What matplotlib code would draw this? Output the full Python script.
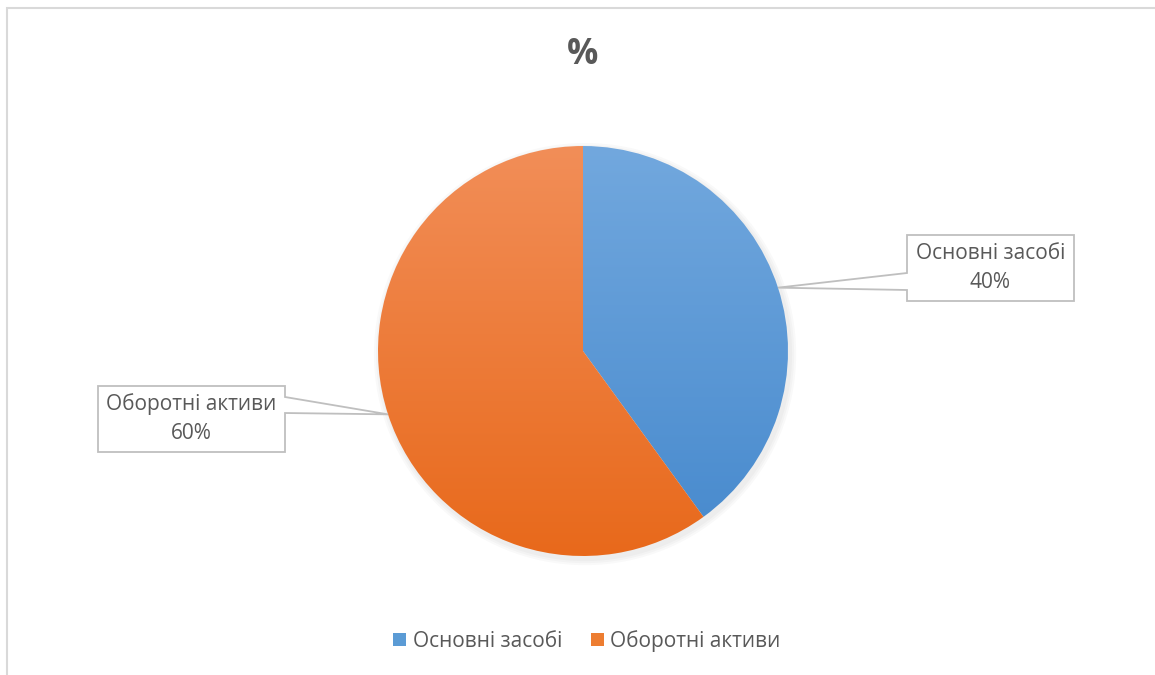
import matplotlib
matplotlib.use("Agg")
import matplotlib.pyplot as plt
import numpy as np
from matplotlib.patches import Wedge, Polygon, Circle, Rectangle
from matplotlib.colors import LinearSegmentedColormap

labels = ["Основні засобі", "Оборотні активи"]
values = [40, 60]
top_colors = ["#72a8de", "#f28e58"]
bottom_colors = ["#4689cd", "#e8691b"]
legend_colors = ["#5b9bd5", "#ed7d31"]
title = "%"

plt.rcParams['font.family'] = ['Open Sans', 'DejaVu Sans']
text_color = "#595959"

W, H = 1155, 675
cx, cy, R = 583, 351, 205   # pie center / radius in pixels

fig = plt.figure(figsize=(W / 100, H / 100), dpi=100)
ax = fig.add_axes([0, 0, 1, 1])
# data units: 1 = pie radius
ax.axis("off")

def px(x, y):
    # pixel position -> data coords
    return (x - cx) / R, (cy - y) / R

# chart border: only top and left edges are visible
bx0, by0 = px(6.5, 7.5)
bx1, by1 = px(W + 20, H + 20)
ax.plot([bx1, bx0, bx0], [by0, by0, by1], color="#d9d9d9", lw=1.5, zorder=0,
        solid_joinstyle="miter")

# faint shadow
for i in range(3):
    ax.add_patch(Circle((0.01, -0.015), 1.0 + 0.01 * (i + 1), color="black",
                        alpha=0.025, lw=0, zorder=1))

# slices with vertical gradient, clockwise from top
total = sum(values)
start = 90.0
mids = []
for i, v in enumerate(values):
    sweep = 360.0 * v / total
    end = start - sweep
    w = Wedge((0, 0), 1.0, end, start, lw=0, fc="none", zorder=2)
    ax.add_patch(w)
    cmap = LinearSegmentedColormap.from_list("g%d" % i, [bottom_colors[i], top_colors[i]])
    grad = np.linspace(0, 1, 256).reshape(-1, 1)
    im = ax.imshow(grad, cmap=cmap, origin="lower", extent=[-1, 1, -1, 1],
                   aspect="auto", zorder=2, interpolation="bilinear")
    im.set_clip_path(w)
    mids.append(np.deg2rad((start + end) / 2))
    start = end

ax.set_xlim(-cx / R, (W - cx) / R)
ax.set_ylim((cy - H) / R, cy / R)

# callout boxes (pixel boxes: x0, x1, y0, y1)
boxes = [(907, 1074, 235, 301), (98, 285, 386, 452)]
for i, (x0, x1, y0, y1) in enumerate(boxes):
    tipx, tipy = np.cos(mids[i]), np.sin(mids[i])
    X0, Yt = px(x0, y0)
    X1, Yb = px(x1, y1)
    if tipx > 0:
        # pointer on left edge
        p1 = px(x0, y0 + 38)[1]
        p2 = px(x0, y0 + 55)[1]
        pts = [(X0, Yt), (X1, Yt), (X1, Yb), (X0, Yb), (X0, p2), (tipx, tipy), (X0, p1)]
    else:
        p1 = px(x1, y0 + 11)[1]
        p2 = px(x1, y0 + 27)[1]
        pts = [(X0, Yt), (X1, Yt), (X1, p1), (tipx, tipy), (X1, p2), (X1, Yb), (X0, Yb)]
    ax.add_patch(Polygon(pts, closed=True, fc="white", ec="#bfbfbf", lw=1.3, zorder=3))
    ax.text((X0 + X1) / 2, (Yt + Yb) / 2, "%s\n%d%%" % (labels[i], values[i]),
            ha="center", va="center", fontsize=15, color=text_color,
            linespacing=1.5, zorder=4)

# title
tx, ty = px(583, 55)
ax.text(tx, ty, title, ha="center", va="center", fontsize=25, fontweight="bold",
        color=text_color)

# legend
handles = [Rectangle((0, 0), 1, 1, fc=legend_colors[i], ec="none") for i in range(len(labels))]
lx, ly = px(587, 641)
leg = ax.legend(handles, labels, loc="center", bbox_to_anchor=(lx, ly),
                bbox_transform=ax.transData, ncol=2, frameon=False, fontsize=15,
                handlelength=0.62, handleheight=0.62, handletextpad=0.3,
                columnspacing=1.4)
for t in leg.get_texts():
    t.set_color(text_color)

fig.savefig("out.png", dpi=100)
